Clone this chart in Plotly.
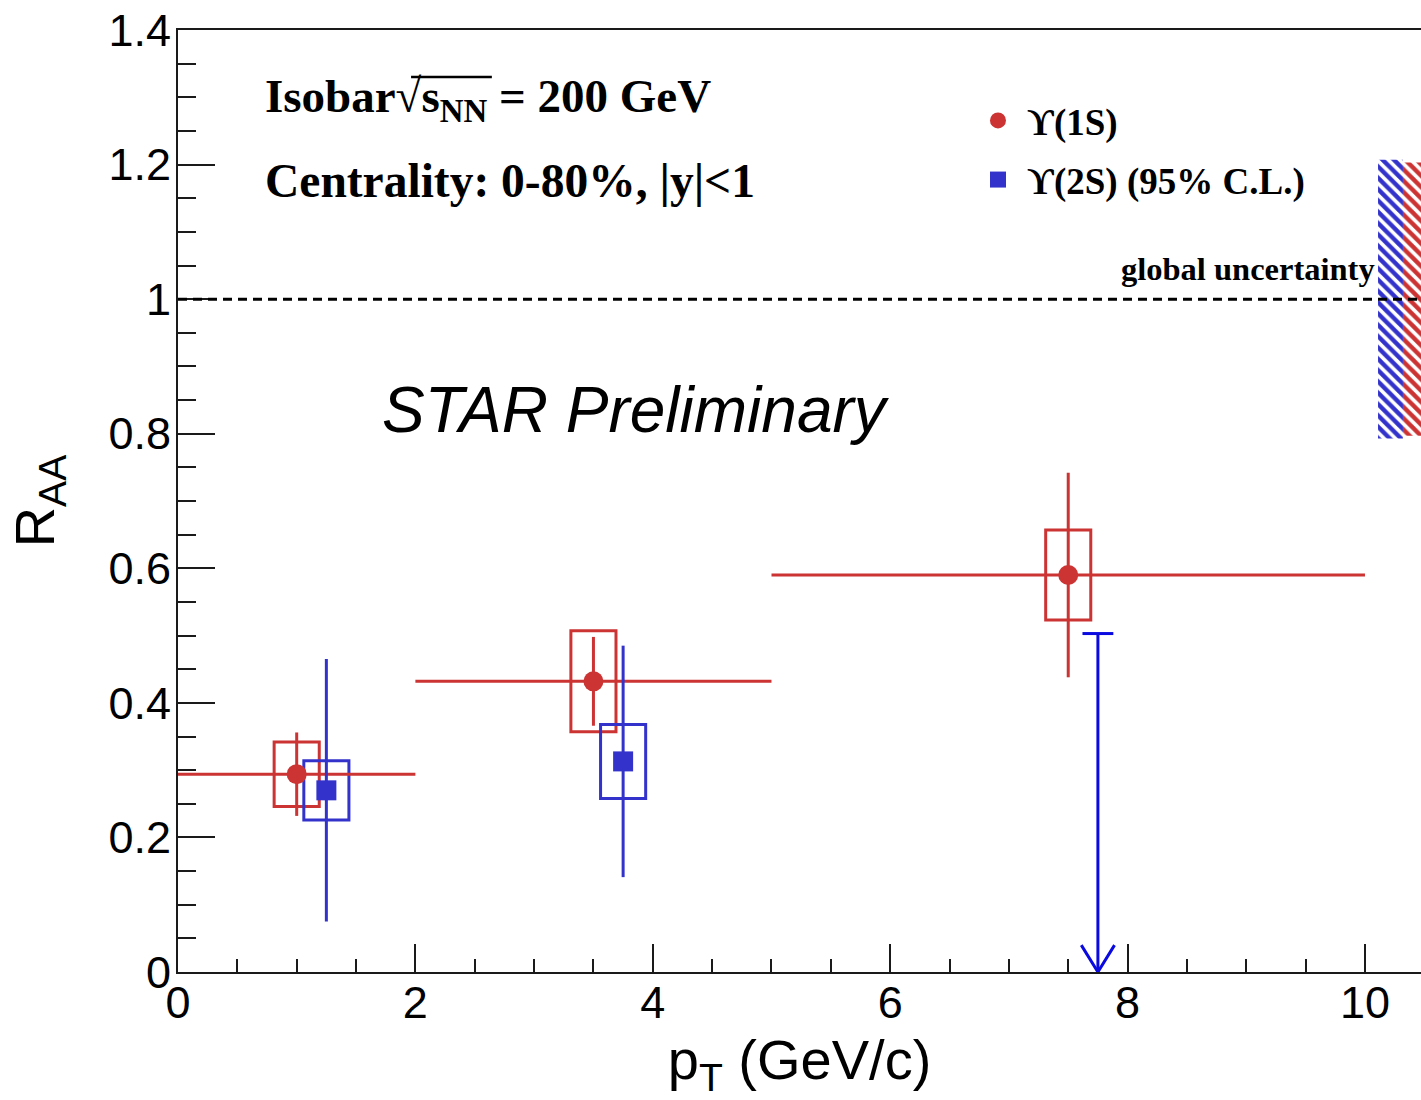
import plotly.graph_objects as go

# ---------------- data ----------------
# Upsilon(1S)
pt_1s = [1.0, 3.5, 7.5]
pt_lo_1s = [0.0, 2.0, 5.0]
pt_hi_1s = [2.0, 5.0, 10.0]
raa_1s = [0.294, 0.432, 0.590]
stat_1s = [0.062, 0.066, 0.152]
sys_1s = [0.048, 0.075, 0.067]

# Upsilon(2S)
pt_2s = [1.25, 3.75]
raa_2s = [0.270, 0.313]
stat_2s = [0.195, 0.172]
sys_2s = [0.044, 0.055]
# Upsilon(2S) 95% C.L. upper limit
ul_pt_2s = [7.75]
ul_raa_2s = [0.503]

# global uncertainties (around unity)
global_1s = 0.203
global_2s = 0.207

x_ticks = [0, 2, 4, 6, 8, 10]
y_ticks = [0, 0.2, 0.4, 0.6, 0.8, 1.0, 1.2, 1.4]

# ---------------- style ----------------
RED = "#cc3333"
BLUE = "#3333cc"
ARROW_BLUE = "#0a0ae0"
AXC = "#1a1a1a"
SANS = "Liberation Sans, Arial, sans-serif"
SERIF = "Liberation Serif, Times New Roman, serif"
BOX_HW = 0.19          # half width of systematic boxes (GeV/c)
CAP_HW = 0.13          # half width of upper-limit cap
HEAD_DX, HEAD_DY = 0.14, 0.04
GX = [10.11, 10.32, 10.60]  # x edges of global-uncertainty bands

fig = go.Figure()

# global uncertainty hatched bands
for x0, x1, g, col in [(GX[0], GX[1], global_2s, BLUE), (GX[1], GX[2], global_1s, RED)]:
    fig.add_trace(go.Scatter(
        x=[x0, x1, x1, x0, x0], y=[1 - g, 1 - g, 1 + g, 1 + g, 1 - g],
        mode="none", fill="toself", fillcolor="rgba(0,0,0,0)",
        fillpattern=dict(shape="\\", fgcolor=col, fgopacity=1, bgcolor="rgba(0,0,0,0)",
                         size=8, solidity=0.55),
        showlegend=False, hoverinfo="skip"))

# systematic boxes
shapes = []
for x, y, s in zip(pt_1s, raa_1s, sys_1s):
    shapes.append(dict(type="rect", xref="x", yref="y", x0=x - BOX_HW, x1=x + BOX_HW,
                       y0=y - s, y1=y + s, line=dict(color=RED, width=3), layer="below"))
for x, y, s in zip(pt_2s, raa_2s, sys_2s):
    shapes.append(dict(type="rect", xref="x", yref="y", x0=x - BOX_HW, x1=x + BOX_HW,
                       y0=y - s, y1=y + s, line=dict(color=BLUE, width=3), layer="below"))
# unity line
shapes.append(dict(type="line", xref="paper", yref="y", x0=0, x1=1, y0=1, y1=1,
                   line=dict(color="black", width=3, dash="9px,6px"), layer="above"))
# overline of the square root in the energy label (paper coords)
shapes.append(dict(type="line", xref="paper", yref="paper",
                   x0=0.1875, x1=0.2525, y0=0.9501, y1=0.9501,
                   line=dict(color="black", width=2.5), layer="above"))

# Upsilon(1S)
fig.add_trace(go.Scatter(
    x=pt_1s, y=raa_1s, mode="markers", name="<b> ϒ(1S)</b>",
    marker=dict(symbol="circle", size=20, color=RED),
    error_x=dict(type="data", symmetric=False,
                 array=[h - p for h, p in zip(pt_hi_1s, pt_1s)],
                 arrayminus=[p - l for p, l in zip(pt_1s, pt_lo_1s)],
                 width=0, thickness=3, color=RED),
    error_y=dict(type="data", array=stat_1s, width=0, thickness=3, color=RED),
    legendgroup="a"))

# Upsilon(2S)
fig.add_trace(go.Scatter(
    x=pt_2s, y=raa_2s, mode="markers", name="<b> ϒ(2S) (95% C.L.)</b>",
    marker=dict(symbol="square", size=20, color=BLUE),
    error_y=dict(type="data", array=stat_2s, width=0, thickness=3, color=BLUE),
    legendgroup="b"))

# upper limit arrow
ax, ay = [], []
for x, u in zip(ul_pt_2s, ul_raa_2s):
    ax += [x, x, None, x - CAP_HW, x + CAP_HW, None, x - HEAD_DX, x, x + HEAD_DX, None]
    ay += [u, 0, None, u, u, None, HEAD_DY, 0, HEAD_DY, None]
fig.add_trace(go.Scatter(x=ax, y=ay, mode="lines", line=dict(color=ARROW_BLUE, width=3),
                         showlegend=False, cliponaxis=False, hoverinfo="skip"))

annotations = [
    dict(text="<b>Isobar√s<sub>NN</sub> = 200 GeV</b>", xref="paper", yref="paper",
         x=0.0684, y=0.9257, xanchor="left", yanchor="middle", showarrow=False,
         font=dict(family=SERIF, size=47, color="black")),
    dict(text="<b>Centrality: 0-80%, |y|&lt;1</b>", xref="paper", yref="paper",
         x=0.0684, y=0.8397, xanchor="left", yanchor="middle", showarrow=False,
         font=dict(family=SERIF, size=47.5, color="black")),
    dict(text="<i>STAR Preliminary</i>", xref="paper", yref="paper",
         x=0.1625, y=0.5966, xanchor="left", yanchor="middle", showarrow=False,
         font=dict(family=SANS, size=64, color="black")),
    dict(text="<b>global uncertainty</b>", xref="paper", yref="paper",
         x=0.9646, y=0.746, xanchor="right", yanchor="middle", showarrow=False,
         font=dict(family=SERIF, size=32.5, color="black")),
]

fig.update_layout(
    width=1421, height=1100,
    margin=dict(l=178, r=0, t=30, b=128),
    plot_bgcolor="white", paper_bgcolor="white",
    shapes=shapes, annotations=annotations,
    showlegend=True,
    legend=dict(x=0.6436, y=0.9364, xanchor="left", yanchor="top",
                bgcolor="rgba(0,0,0,0)", font=dict(family=SERIF, size=37, color="black"),
                tracegroupgap=8, itemsizing="trace"),
    xaxis=dict(range=[0, 10.472], tickvals=x_ticks, ticks="inside", ticklen=28, tickwidth=2,
               tickcolor=AXC, showline=True, linewidth=2, linecolor=AXC, mirror=True,
               showgrid=False, zeroline=False, ticklabelstandoff=-10,
               tickfont=dict(family=SANS, size=45, color="black"),
               minor=dict(dtick=0.5, tick0=0, ticks="inside", ticklen=13, tickwidth=2,
                          tickcolor=AXC, showgrid=False),
               title=dict(text="p<sub>T</sub> (GeV/c)", font=dict(family=SANS, size=56, color="black"),
                          standoff=0)),
    yaxis=dict(range=[0, 1.4], tickvals=y_ticks, ticktext=[f"{v:g}" for v in y_ticks],
               ticks="inside", ticklen=37, tickwidth=2,
               tickcolor=AXC, showline=True, linewidth=2, linecolor=AXC, mirror=False,
               showgrid=False, zeroline=False, ticklabelstandoff=-4,
               tickfont=dict(family=SANS, size=45, color="black"),
               minor=dict(dtick=0.05, tick0=0, ticks="inside", ticklen=18, tickwidth=2,
                          tickcolor=AXC, showgrid=False),
               title=dict(text="R<sub>AA</sub>", font=dict(family=SANS, size=56, color="black"),
                          standoff=36)),
)

fig.write_html("out.html")
